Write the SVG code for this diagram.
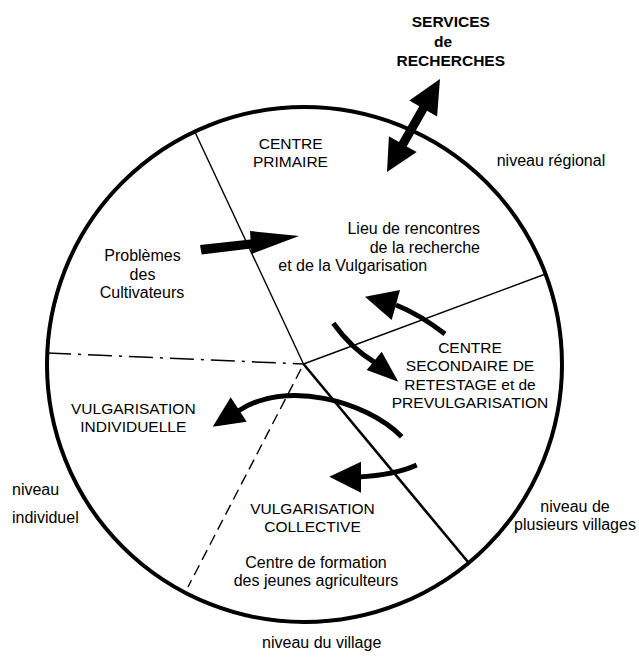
<svg xmlns="http://www.w3.org/2000/svg" width="639" height="661" viewBox="0 0 639 661">
<style>
  text{font-family:"Liberation Sans",Arial,Helvetica,sans-serif;font-size:16px;fill:#000}
  .cap{font-size:15.5px}
  .bold{font-size:15.5px;font-weight:bold}
  .mid{text-anchor:middle}
  .end{text-anchor:end}
  .ln{stroke:#000;fill:none}
  .shaft{stroke:#000;fill:none;stroke-width:5;stroke-linecap:butt}
  .head{fill:#000;stroke:none}
</style>
<rect width="639" height="661" fill="#fff"/>
<g id="outer-circle">
  <circle cx="304.5" cy="364.5" r="257.5" fill="none" stroke="#000" stroke-width="4"/>
</g>
<g id="connectors">
  <line class="ln" x1="194" y1="130" x2="303.5" y2="364" stroke-width="1.4"/>
  <line class="ln" x1="303.5" y1="364" x2="468" y2="562" stroke-width="2.6"/>
  <line class="ln" x1="303.5" y1="364" x2="545.5" y2="274" stroke-width="1.5"/>
  <line class="ln" x1="47" y1="353" x2="303.5" y2="364" stroke-width="1.5" stroke-dasharray="24 7 3 7"/>
  <line class="ln" x1="301" y1="369" x2="188" y2="587" stroke-width="1.4" stroke-dasharray="11 6"/>
  <polygon class="head" points="387,172 416.7,152.1 406.7,146.4 427.1,110.7 437.1,116.4 440,79 409.3,100.6 419.3,106.3 398.9,142 388.9,136.3"/>
  <polygon class="head" points="200,245 250.5,239.5 250,231 299,236 251.7,254 251,248.6 201.7,254.5"/>
  <path class="shaft" d="M445,334 Q419.5,314.3 396,305"/>
  <polygon class="head" points="365,296.7 400,290 391.7,320"/>
  <path class="shaft" d="M333.3,323.3 Q351.4,348.4 374,362"/>
  <polygon class="head" points="381.7,351.7 398.3,381.7 366.7,370"/>
  <path class="shaft" d="M401.7,436.7 C365,400 285,380 239,410.5"/>
  <polygon class="head" points="212.7,426.7 230.7,397.3 246.7,421.7"/>
  <path class="shaft" d="M416.7,465 Q395,475 358,477"/>
  <polygon class="head" points="329.3,476.7 361,461.7 361,492.7"/>
</g>
<g id="services">
  <text class="bold mid" x="450.8" y="27.3">SERVICES</text>
  <text class="bold mid" x="443" y="46.7">de</text>
  <text class="bold mid" x="450.8" y="66">RECHERCHES</text>
</g>
<g id="centre-primaire">
  <text class="cap mid" x="290.7" y="149.3">CENTRE</text>
  <text class="cap mid" x="290.5" y="166.7">PRIMAIRE</text>
</g>
<g id="lieu-rencontres">
  <text class="end" x="480" y="234.3">Lieu de rencontres</text>
  <text class="end" x="480" y="252.7">de la recherche</text>
  <text x="278.3" y="270.5">et de la Vulgarisation</text>
</g>
<g id="problemes">
  <text class="mid" x="142.5" y="261">Problèmes</text>
  <text class="mid" x="142.5" y="280">des</text>
  <text class="mid" x="142" y="298">Cultivateurs</text>
</g>
<g id="centre-secondaire">
  <text class="cap mid" x="470" y="352.5">CENTRE</text>
  <text class="cap mid" x="470" y="371">SECONDAIRE DE</text>
  <text class="cap mid" x="470" y="389.5">RETESTAGE et de</text>
  <text class="cap mid" x="470" y="408">PREVULGARISATION</text>
</g>
<g id="vulgarisation-individuelle">
  <text class="cap mid" x="133.3" y="414">VULGARISATION</text>
  <text class="cap mid" x="133.3" y="432">INDIVIDUELLE</text>
</g>
<g id="vulgarisation-collective">
  <text class="cap mid" x="312.5" y="513.5">VULGARISATION</text>
  <text class="cap mid" x="312.5" y="532">COLLECTIVE</text>
  <text class="mid" x="316" y="568">Centre de formation</text>
  <text class="mid" x="316" y="586">des jeunes agriculteurs</text>
</g>
<g id="niveau-regional">
  <text x="496.7" y="165.7">niveau régional</text>
</g>
<g id="niveau-individuel">
  <text x="12" y="495">niveau</text>
  <text x="12" y="523.3">individuel</text>
</g>
<g id="niveau-plusieurs-villages">
  <text class="mid" x="575" y="511.5">niveau de</text>
  <text class="mid" x="575" y="529.5">plusieurs villages</text>
</g>
<g id="niveau-village">
  <text class="mid" x="321.7" y="648">niveau du village</text>
</g>
</svg>
